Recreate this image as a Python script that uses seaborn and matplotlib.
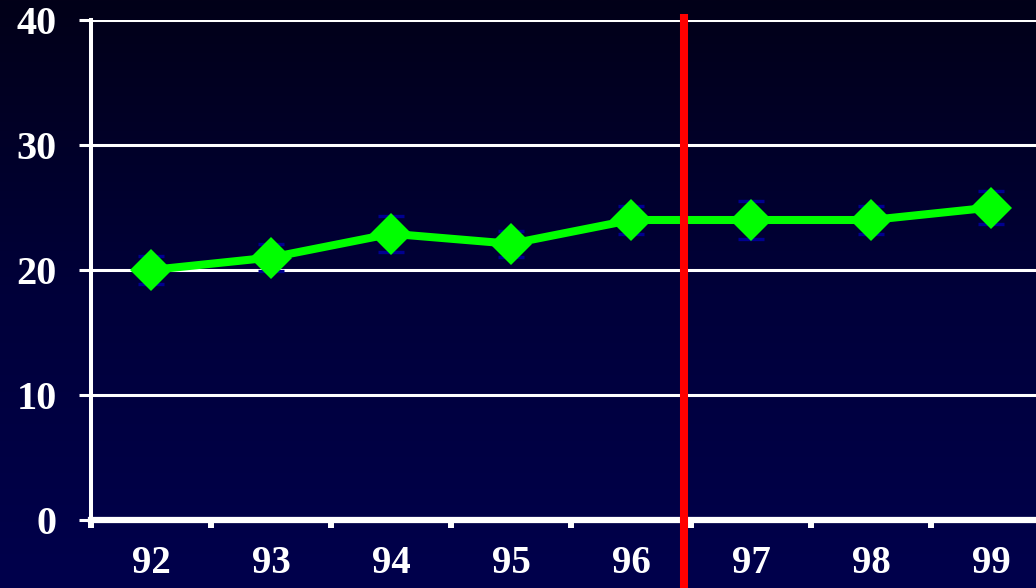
import numpy as np
import pandas as pd
import matplotlib
matplotlib.use("Agg")
import matplotlib.pyplot as plt
from matplotlib.colors import LinearSegmentedColormap
import seaborn as sns

# Yearly values with their spread
years = ["92", "93", "94", "95", "96", "97", "98", "99"]
values = [20.0, 21.0, 22.9, 22.1, 24.0, 24.0, 24.0, 25.0]
errors = [1.1, 1.1, 1.45, 1.05, 1.1, 1.55, 1.1, 1.3]
y_ticks = [0, 10, 20, 30, 40]
break_position = 4.44  # marker between 96 and 97

sns.set_theme(style="white")
plt.rcParams["font.family"] = ["Liberation Serif", "DejaVu Serif"]
plt.rcParams["font.weight"] = "bold"

W, H, DPI = 1036, 588, 100
fig = plt.figure(figsize=(W / DPI, H / DPI), dpi=DPI)

# Vertical gradient backdrop: near black at the top, navy at the bottom
bg = fig.add_axes([0, 0, 1, 1], zorder=-10)
cmap = LinearSegmentedColormap.from_list("bg", ["#00004c", "#00003a", "#020018"])
grad = np.linspace(0, 1, 256).reshape(-1, 1)
bg.imshow(grad, aspect="auto", cmap=cmap, origin="lower", extent=[0, 1, 0, 1])
bg.set_axis_off()

ax = fig.add_axes([91 / W, 68 / H, 945 / W, 500 / H])
ax.set_facecolor("none")

df = pd.DataFrame({"pos": np.arange(len(years)), "value": values, "err": errors})

ax.errorbar(df["pos"], df["value"], yerr=df["err"], fmt="none",
            ecolor="#000090", elinewidth=2.2, capsize=9.5, capthick=2.4, zorder=3)
sns.lineplot(data=df, x="pos", y="value", ax=ax, color="#00ff00", linewidth=5.8,
             marker="D", markersize=21.5, markeredgewidth=0,
             markerfacecolor="#00ff00", zorder=4)

ax.set_xlim(-0.5, 7.375)
ax.set_ylim(0, 40)

# Category labels at centres, tick marks between categories
ax.set_xticks(df["pos"])
ax.set_xticklabels(years, fontweight="bold")
ax.set_xticks(np.arange(-0.5, 7.5, 1.0), minor=True)
ax.tick_params(axis="x", which="major", length=0, pad=18, labelsize=28,
               labelcolor="white")
ax.tick_params(axis="x", which="minor", length=6, width=4.3, color="white",
               direction="out", bottom=True)
ax.set_yticks(y_ticks)
ax.set_yticklabels([str(t) for t in y_ticks], fontweight="bold")
ax.tick_params(axis="y", which="major", length=8.5, width=2.2, color="white",
               direction="out", left=True, pad=16, labelsize=29, labelcolor="white")

ax.set_xlabel("")
ax.set_ylabel("")
ax.grid(False)
for y in y_ticks[1:]:
    ax.axhline(y, color="white", linewidth=2.2, zorder=1)

for side in ["top", "right"]:
    ax.spines[side].set_visible(False)
ax.spines["left"].set_color("white")
ax.spines["left"].set_linewidth(2.9)
ax.spines["bottom"].set_color("white")
ax.spines["bottom"].set_linewidth(4.5)

ax.axvline(break_position, ymin=-0.14, ymax=1.012, color="#ff0000",
           linewidth=5.8, clip_on=False, zorder=6, solid_capstyle="butt")

fig.savefig("out.png", dpi=DPI)
